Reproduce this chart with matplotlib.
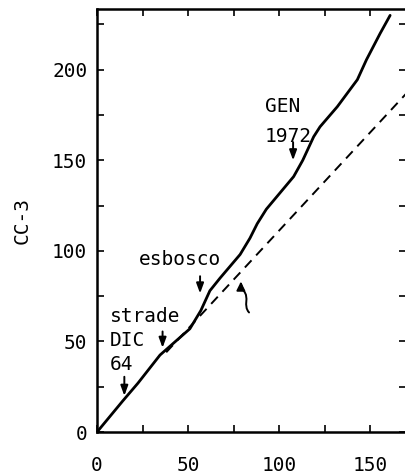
import matplotlib
matplotlib.use("Agg")
import matplotlib.pyplot as plt
from matplotlib.path import Path
from matplotlib.patches import FancyArrowPatch

# data
solid_x = [0, 14, 22.5, 34.6, 51, 57, 62, 67.6, 78.6, 84, 88, 93, 100.5, 108, 113, 119, 122.5, 132, 143, 148, 155.5, 161]
solid_y = [0, 17, 27, 42.5, 57, 67, 78, 85, 98, 107, 115, 123, 132, 141, 150, 163, 168.5, 179.6, 194.5, 205.5, 220, 230]
dash_x = [38, 170]
dash_y = [44, 187]
xticks = [0, 50, 100, 150]
yticks = [0, 50, 100, 150, 200]
x_minor = [25, 75, 125]
y_minor = [25, 75, 125, 175, 225]

mono = "DejaVu Sans Mono"
fs = 14
fig = plt.figure(figsize=(4.06, 4.75), dpi=100)
ax = fig.add_axes([0.239, 0.0905, 0.76, 0.8905])
ax.plot(solid_x, solid_y, color="black", lw=2.0, solid_capstyle="round", solid_joinstyle="round")
ax.plot(dash_x, dash_y, color="black", lw=1.4, ls=(0, (5, 3.5)))
ax.set_xlim(0, 169.5)
ax.set_ylim(0, 233.5)

ax.set_xticks(xticks)
ax.set_yticks(yticks)
ax.set_xticks(x_minor, minor=True)
ax.set_yticks(y_minor, minor=True)
ax.tick_params(which="both", direction="in", length=5, width=1.2, top=True, right=True)
ax.tick_params(axis="x", which="major", pad=17)
ax.tick_params(axis="y", which="major", pad=7)
for lab in ax.get_xticklabels() + ax.get_yticklabels():
    lab.set_fontfamily(mono)
    lab.set_fontsize(fs)
for s in ["left", "bottom", "top"]:
    ax.spines[s].set_linewidth(1.8)
ax.spines["right"].set_linewidth(1.0)
ax.spines["right"].set_linestyle((0, (1, 6)))

ax.set_ylabel("CC-3", fontfamily=mono, fontsize=fs, labelpad=15)

tk = dict(fontfamily=mono, fontsize=fs, color="black", va="baseline")
ax.text(92.3, 176.8, "GEN", ha="left", **tk)
ax.text(92.3, 160.2, "1972", ha="left", **tk)
ax.text(45.6, 92.3, "esbosco", ha="center", **tk)
ax.text(7.1, 60.8, "strade", ha="left", **tk)
ax.text(7.1, 47.5, "DIC", ha="left", **tk)
ax.text(7.1, 34.3, "64", ha="left", **tk)

ap = dict(arrowstyle="-|>,head_length=0.6,head_width=0.22", color="black", lw=1.4,
          shrinkA=0, shrinkB=0, mutation_scale=10)
for x, y0, y1 in [(107.7, 160, 150), (56.6, 86, 76.5), (36, 55.5, 46.5), (15, 30.5, 20)]:
    ax.annotate("", xy=(x, y1), xytext=(x, y0), arrowprops=ap)

verts = [(83.5, 66), (80, 70), (84, 74), (80.5, 78), (79.5, 80), (79, 82), (79, 83)]
codes = [Path.MOVETO, Path.CURVE4, Path.CURVE4, Path.CURVE4, Path.CURVE3, Path.CURVE3, Path.LINETO]
sq = FancyArrowPatch(path=Path(verts, codes), arrowstyle="-|>,head_length=5,head_width=2.5",
                     color="black", lw=1.4)
ax.add_patch(sq)

fig.savefig("out.png", dpi=100)
